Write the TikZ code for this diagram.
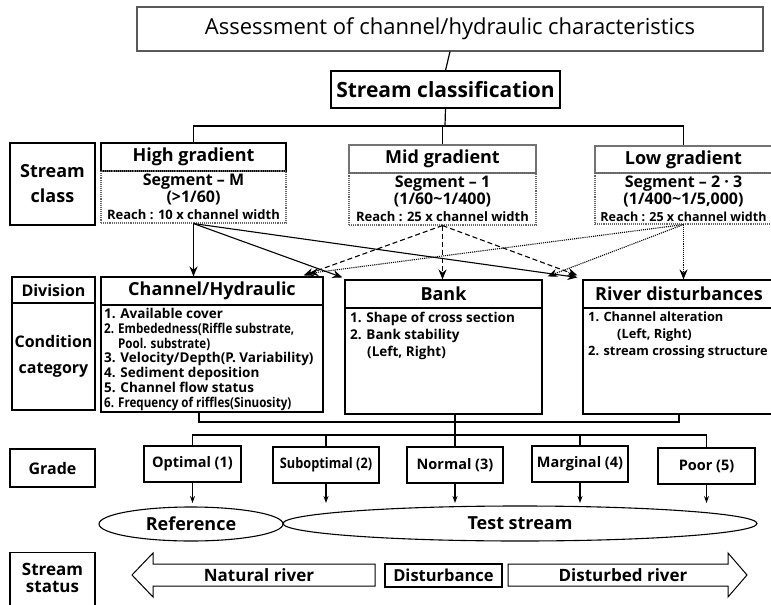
\documentclass[tikz,border=0pt]{standalone}
\usepackage{fontspec}
\setmainfont{Open Sans}
\usepackage{graphicx}
\usetikzlibrary{arrows.meta,calc,shapes.geometric}
\newcommand{\fsz}[2]{\fontsize{#1}{#2}\selectfont}
\newcommand{\cnd}[1]{\scalebox{0.86}[1]{#1}}
\begin{document}
\begin{tikzpicture}[x=1pt,y=-1pt,
  sz/.style 2 args={minimum width=#1pt, minimum height=#2pt},
  box/.style={draw=black, line width=1.1pt, inner sep=0pt, rectangle, align=center, font=\bfseries},
  gbox/.style={box, draw=black!55},
  dbox/.style={box, draw=black!60, densely dotted},
  txt/.style={inner sep=0pt, align=left, font=\bfseries\fsz{13.5}{14.8}, anchor=north west},
  conn/.style={line width=1.2pt},
  harr/.style={line width=1.1pt, -{Stealth[length=10pt,width=8pt]}},
  sarr/.style={line width=1.1pt, -{Stealth[length=7pt,width=5pt]}},
  bigarr/.style={draw=black, line width=1pt, fill=white},
  oval/.style={draw=black, line width=1.1pt, ellipse, inner sep=0pt, font=\bfseries\fsz{18}{20}}
]
\useasboundingbox (0,0) rectangle (771,605);

% top
\node[box, draw=black!65, sz={626}{44}, font=\fsz{22}{26}] (title) at (450,29) {Assessment of channel/hydraulic characteristics};
\node[box, sz={229}{37}, font=\bfseries\fsz{21}{24}] (sc) at (445.5,89.5) {Stream classification};
\coordinate (bus) at (445,126);

% stream class
\node[box, sz={85}{82}, font=\bfseries\fsz{18}{25}] (scl) at (52.5,184) {Stream\\class};
\node[box, sz={185}{28}, font=\bfseries\fsz{18}{20}] (hgH) at (193.5,157) {High gradient};
\node[dbox, sz={185}{52}, font=\bfseries\fsz{16}{17}] (hgB) at (193.5,197) {Segment – M\\(>1/60)\\\fsz{13}{16}Reach : 10 x channel width};
\node[gbox, sz={187}{28}, font=\bfseries\fsz{18}{20}] (mgH) at (442.5,159) {Mid gradient};
\node[dbox, sz={187}{52}, font=\bfseries\fsz{16}{17}] (mgB) at (442.5,199) {Segment – 1\\(1/60\textasciitilde1/400)\\\fsz{13}{16}Reach : 25 x channel width};
\node[gbox, sz={177}{27}, font=\bfseries\fsz{18}{20}] (lgH) at (683.5,159.5) {Low gradient};
\node[dbox, sz={177}{51}, font=\bfseries\fsz{16}{17}] (lgB) at (683.5,198.5) {Segment – 2 · 3\\(1/400\textasciitilde1/5,000)\\\fsz{12.5}{16}Reach : 25 x channel width};

% division
\node[box, sz={83}{26}, font=\bfseries\fsz{16}{18}] (div) at (53.5,290) {Division};
\node[box, sz={83}{107}, font=\bfseries\fsz{16}{26}] (cond) at (53.5,356.5) {Condition\\category};
\node[box, sz={222}{28}, font=\bfseries\fsz{18}{20}] (chH) at (212,291) {Channel/Hydraulic};
\node[box, sz={222}{107}] (chB) at (212,358.5) {};
\node[box, sz={197}{28}, font=\bfseries\fsz{18}{20}] (bkH) at (443.5,294) {Bank};
\node[box, sz={197}{106}] (bkB) at (443.5,361) {};
\node[box, sz={192}{28}, font=\bfseries\fsz{18}{20}] (rdH) at (679,294) {River disturbances};
\node[box, sz={192}{106}] (rdB) at (679,361) {};

\node[txt] (chT) at (104,308) {1. Available cover\\
\cnd{2. Embededness(Riffle substrate,}\\
\hspace*{14pt}\cnd{Pool. substrate)}\\
3. Velocity/Depth(P. Variability)\\
4. Sediment deposition\\
5. Channel flow status\\
\cnd{6. Frequency of riffles(Sinuosity)}};
\node[txt, font=\bfseries\fsz{13.5}{17}] (bkT) at (350,312) {1. Shape of cross section\\2. Bank stability\\\hspace*{17pt}(Left, Right)};
\node[txt, font=\bfseries\fsz{12.8}{17}] (rdT) at (588,312) {1. Channel alteration\\\hspace*{29pt}(Left, Right)\\2. stream crossing structure};

% grade
\node[box, sz={85}{38}, font=\bfseries\fsz{16}{18}] (grd) at (52.5,468) {Grade};
\node[box, sz={97}{36}, font=\bfseries\fsz{14.5}{16}] (g1) at (192.5,464) {Optimal (1)};
\node[box, sz={106}{36}, font=\bfseries\fsz{14.5}{16}] (g2) at (326,465) {\scalebox{0.88}[1]{Suboptimal (2)}};
\node[box, sz={96}{36}, font=\bfseries\fsz{14.5}{16}] (g3) at (455,465) {Normal (3)};
\node[box, sz={96}{36}, font=\bfseries\fsz{14.5}{16}] (g4) at (580,464) {Marginal (4)};
\node[box, sz={97}{36}, font=\bfseries\fsz{14.5}{16}] (g5) at (706.5,466) {Poor (5)};

\node[oval, minimum width=184pt, minimum height=34pt] (ref) at (191,524) {Reference};
\node[oval, minimum width=474pt, minimum height=35pt] (test) at (520,523.5) {Test stream};

% status
\node[box, sz={85}{70}, anchor=north] (st) at (52.5,552) {};
\node[inner sep=0pt, align=center, font=\bfseries\fsz{17}{17}] (stT) at (52.5,578) {Stream\\status};
\draw[bigarr] (132,575) -- (153,553) -- (153,564) -- (375,564) -- (375,586) -- (153,586) -- (153,597) -- cycle;
\node[inner sep=0pt, font=\bfseries\fsz{17}{20}] (nat) at (259,575) {Natural river};
\node[box, sz={117}{23}, font=\bfseries\fsz{16.5}{20}] (dist) at (443.5,575.5) {Disturbance};
\draw[bigarr] (508,564) -- (728,564) -- (728,553) -- (747,575) -- (728,597) -- (728,586) -- (508,586) -- cycle;
\node[inner sep=0pt, font=\bfseries\fsz{17}{20}] (dr) at (623,575) {Disturbed river};

% connectors top
\draw[conn] (title.south) -- (sc.north);
\draw[conn] (sc.south) -- (bus);
\draw[conn] (hgH.north) |- (bus) -| (lgH.north);
\draw[conn] (mgH.north) -- (mgH.north |- bus);

% stream class -> division
\draw[harr] (hgB.south) -- (hgB.south |- chH.north);
\draw[harr] (hgB.south) -- ($(bkH.north west)+(-2,-2)$);
\draw[harr] (hgB.south) -- ($(rdH.north west)+(-5,-2)$);
\draw[harr, dash pattern=on 5pt off 3pt] (mgB.south) -- ($(chH.north east)+(-20,-1)$);
\draw[harr, dash pattern=on 5pt off 3pt] (mgB.south) -- (mgB.south |- bkH.north);
\draw[harr, dash pattern=on 5pt off 3pt] (mgB.south) -- ($(rdH.north west)+(-5,-4)$);
\draw[harr, densely dotted] (lgB.south) -- ($(chH.north east)+(-15,-3)$);
\draw[harr, densely dotted] (lgB.south) -- ($(bkH.north east)+(5,-3)$);
\draw[harr, densely dotted] (lgB.south) -- (lgB.south |- rdH.north);

% division -> grade
\coordinate (j1) at (455,422);
\coordinate (j2) at (455,435);
\coordinate (ae) at (0,503);
\draw[conn] ($(chB.south)+(-13,0)$) |- (j1) -| (rdB.south);
\draw[conn] ($(bkB.south)+(11.5,0)$) -- (g3.north);
\draw[conn] (g1.north) |- (j2) -| (g5.north);
\draw[conn] (g2.north) -- (g2.north |- j2);
\draw[conn] (g4.north) -- (g4.north |- j2);
\foreach \g in {g1,g2,g3,g4,g5} {\draw[sarr] (\g.south) -- (\g.south |- ae);}
\end{tikzpicture}
\end{document}
